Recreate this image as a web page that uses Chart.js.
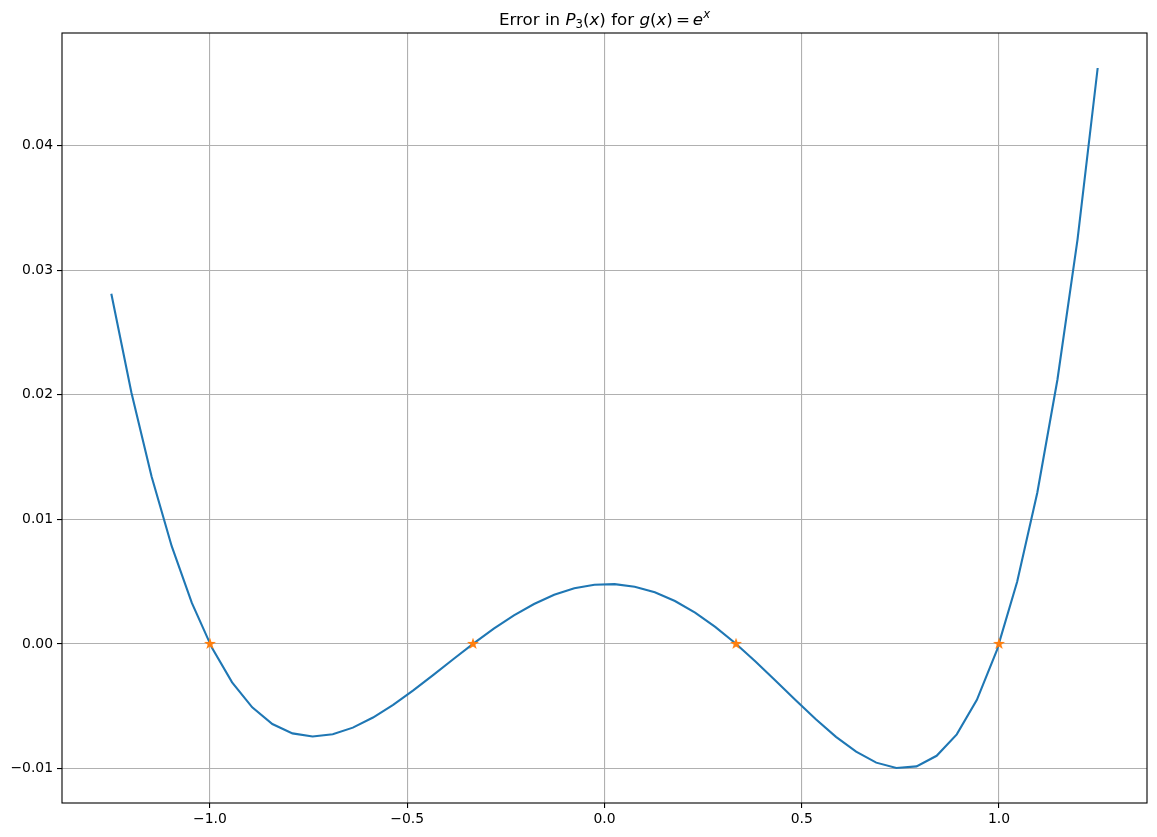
<!DOCTYPE html>
<html>
<head>
<meta charset="utf-8">
<script src="https://cdn.jsdelivr.net/npm/chart.js@4/dist/chart.umd.min.js"></script>
<style>
  html, body { margin: 0; padding: 0; background: #fff; }
  #box { width: 1157px; height: 837px; position: relative; }
</style>
</head>
<body>
<div id="box"><canvas id="grafico"></canvas></div>
<script>
// amostras de x (50 pontos entre -1.25 e 1.25)
const xs = [-1.25, -1.19898, -1.14796, -1.09694, -1.04592, -0.9949, -0.94388, -0.89286, -0.84184, -0.79082,
  -0.7398, -0.68878, -0.63776, -0.58673, -0.53571, -0.48469, -0.43367, -0.38265, -0.33163, -0.28061,
  -0.22959, -0.17857, -0.12755, -0.07653, -0.02551, 0.02551, 0.07653, 0.12755, 0.17857, 0.22959,
  0.28061, 0.33163, 0.38265, 0.43367, 0.48469, 0.53571, 0.58673, 0.63776, 0.68878, 0.7398,
  0.79082, 0.84184, 0.89286, 0.94388, 0.9949, 1.04592, 1.09694, 1.14796, 1.19898, 1.25];

// erro
const erro = [0.02810, 0.02015, 0.01343, 0.00784, 0.00329, -0.00032, -0.00309, -0.00509, -0.00643, -0.00718,
  -0.00743, -0.00725, -0.00672, -0.00591, -0.00489, -0.00373, -0.00249, -0.00121, 0.00004, 0.00122,
  0.00229, 0.00320, 0.00394, 0.00446, 0.00475, 0.00480, 0.00459, 0.00414, 0.00344, 0.00251,
  0.00137, 0.00005, -0.00141, -0.00295, -0.00452, -0.00605, -0.00746, -0.00865, -0.00953, -0.00996,
  -0.00983, -0.00898, -0.00726, -0.00449, -0.00048, 0.00499, 0.01213, 0.02120, 0.03247, 0.04622];

// nós de interpolação
const nosX = [-1, -1 / 3, 1 / 3, 1];
const nosY = [0, 0, 0, 0];

// ticks dos eixos
const xTicks = [-1.0, -0.5, 0.0, 0.5, 1.0];
const xTickLabels = ['\u22121.0', '\u22120.5', '0.0', '0.5', '1.0'];
const yTicks = [-0.01, 0.00, 0.01, 0.02, 0.03, 0.04];
const yTickLabels = ['\u22120.01', '0.00', '0.01', '0.02', '0.03', '0.04'];

const FONTE = '"DejaVu Sans", sans-serif';

// margens de 5% como no matplotlib
const xMin = Math.min(...xs), xMax = Math.max(...xs);
const yMin = Math.min(...erro), yMax = Math.max(...erro);
const mx = (xMax - xMin) * 0.05, my = (yMax - yMin) * 0.05;

// marcador estrela preenchida
function criaEstrela(cor) {
    const c = document.createElement('canvas');
    c.width = 12; c.height = 12;
    const g = c.getContext('2d');
    const R = 4.2, r = R * 0.381966;
    g.beginPath();
    for (let i = 0; i < 10; i++) {
        const rad = i % 2 === 0 ? R : r;
        const a = -Math.PI / 2 + i * Math.PI / 5;
        const px = 6 + rad * Math.cos(a), py = 6 + rad * Math.sin(a);
        if (i === 0) g.moveTo(px, py); else g.lineTo(px, py);
    }
    g.closePath();
    g.fillStyle = cor;
    g.strokeStyle = cor;
    g.lineWidth = 1.3;
    g.lineJoin = 'miter';
    g.fill();
    g.stroke();
    return c;
}

// moldura (quatro lados) e título com partes em itálico
const molduraTitulo = {
    id: 'molduraTitulo',
    afterDatasetsDraw(chart) {
        const { ctx, chartArea: a } = chart;
        ctx.save();
        ctx.strokeStyle = '#000';
        ctx.lineWidth = 1.1;
        ctx.strokeRect(a.left, a.top, a.right - a.left, a.bottom - a.top);
        ctx.restore();
    },
    afterDraw(chart) {
        const { ctx, chartArea: a } = chart;
        const tam = 16.7, peq = 11.7;
        const partes = [
            { t: 'Error in ', it: false, s: tam, dy: 0 },
            { t: 'P', it: true, s: tam, dy: 0 },
            { t: '3', it: false, s: peq, dy: 3.5 },
            { t: '(', it: false, s: tam, dy: 0 },
            { t: 'x', it: true, s: tam, dy: 0 },
            { t: ')', it: false, s: tam, dy: 0 },
            { t: ' for ', it: false, s: tam, dy: 0 },
            { t: 'g', it: true, s: tam, dy: 0 },
            { t: '(', it: false, s: tam, dy: 0 },
            { t: 'x', it: true, s: tam, dy: 0 },
            { t: ')', it: false, s: tam, dy: 0, gap: 3 },
            { t: '=', it: false, s: tam, dy: 0, gap: 3 },
            { t: 'e', it: true, s: tam, dy: 0 },
            { t: 'x', it: true, s: peq, dy: -7 }
        ];
        ctx.save();
        ctx.fillStyle = '#000';
        ctx.textBaseline = 'alphabetic';
        let total = 0;
        partes.forEach(p => {
            ctx.font = (p.it ? 'oblique ' : '') + p.s + 'px ' + FONTE;
            p.w = ctx.measureText(p.t).width + (p.gap || 0);
            total += p.w;
        });
        let x = (a.left + a.right) / 2 - total / 2;
        const base = a.top - 8.3;
        partes.forEach(p => {
            ctx.font = (p.it ? 'oblique ' : '') + p.s + 'px ' + FONTE;
            ctx.textAlign = 'left';
            ctx.fillText(p.t, x, base + p.dy);
            x += p.w;
        });
        ctx.restore();
    }
};

const ctx = document.getElementById('grafico').getContext('2d');
new Chart(ctx, {
    type: 'scatter',
    data: {
        datasets: [
            {
                label: 'erro',
                data: xs.map((v, i) => ({ x: v, y: erro[i] })),
                showLine: true,
                borderColor: '#1f77b4',
                borderWidth: 2.1,
                pointRadius: 0,
                pointHoverRadius: 0,
                tension: 0,
                order: 2
            },
            {
                label: 'nós',
                data: nosX.map((v, i) => ({ x: v, y: nosY[i] })),
                showLine: false,
                pointStyle: criaEstrela('#ff7f0e'),
                pointRadius: 6,
                order: 1
            }
        ]
    },
    options: {
        responsive: true,
        maintainAspectRatio: false,
        animation: false,
        devicePixelRatio: 1,
        layout: { padding: { top: 33, right: 10, left: 0, bottom: 0 } },
        plugins: {
            legend: { display: false },
            title: { display: false },
            tooltip: { enabled: false }
        },
        scales: {
            x: {
                type: 'linear',
                min: xMin - mx,
                max: xMax + mx,
                afterBuildTicks: s => { s.ticks = xTicks.map(v => ({ value: v })); },
                afterFit: s => { s.height = 34; },
                ticks: {
                    callback: (v, i) => xTickLabels[i],
                    color: '#000',
                    font: { family: FONTE, size: 13.9 },
                    padding: 3,
                    maxRotation: 0
                },
                grid: {
                    color: '#b0b0b0',
                    lineWidth: 1.1,
                    drawTicks: true,
                    tickLength: 5,
                    tickColor: '#000',
                    tickWidth: 1.1
                },
                border: { display: false }
            },
            y: {
                type: 'linear',
                min: yMin - my,
                max: yMax + my,
                afterBuildTicks: s => { s.ticks = yTicks.map(v => ({ value: v })); },
                afterFit: s => { s.width = 62; },
                ticks: {
                    callback: (v, i) => yTickLabels[i],
                    color: '#000',
                    font: { family: FONTE, size: 13.9 },
                    padding: 4
                },
                grid: {
                    color: '#b0b0b0',
                    lineWidth: 1.1,
                    drawTicks: true,
                    tickLength: 5,
                    tickColor: '#000',
                    tickWidth: 1.1
                },
                border: { display: false }
            }
        }
    },
    plugins: [molduraTitulo]
});
</script>
</body>
</html>
